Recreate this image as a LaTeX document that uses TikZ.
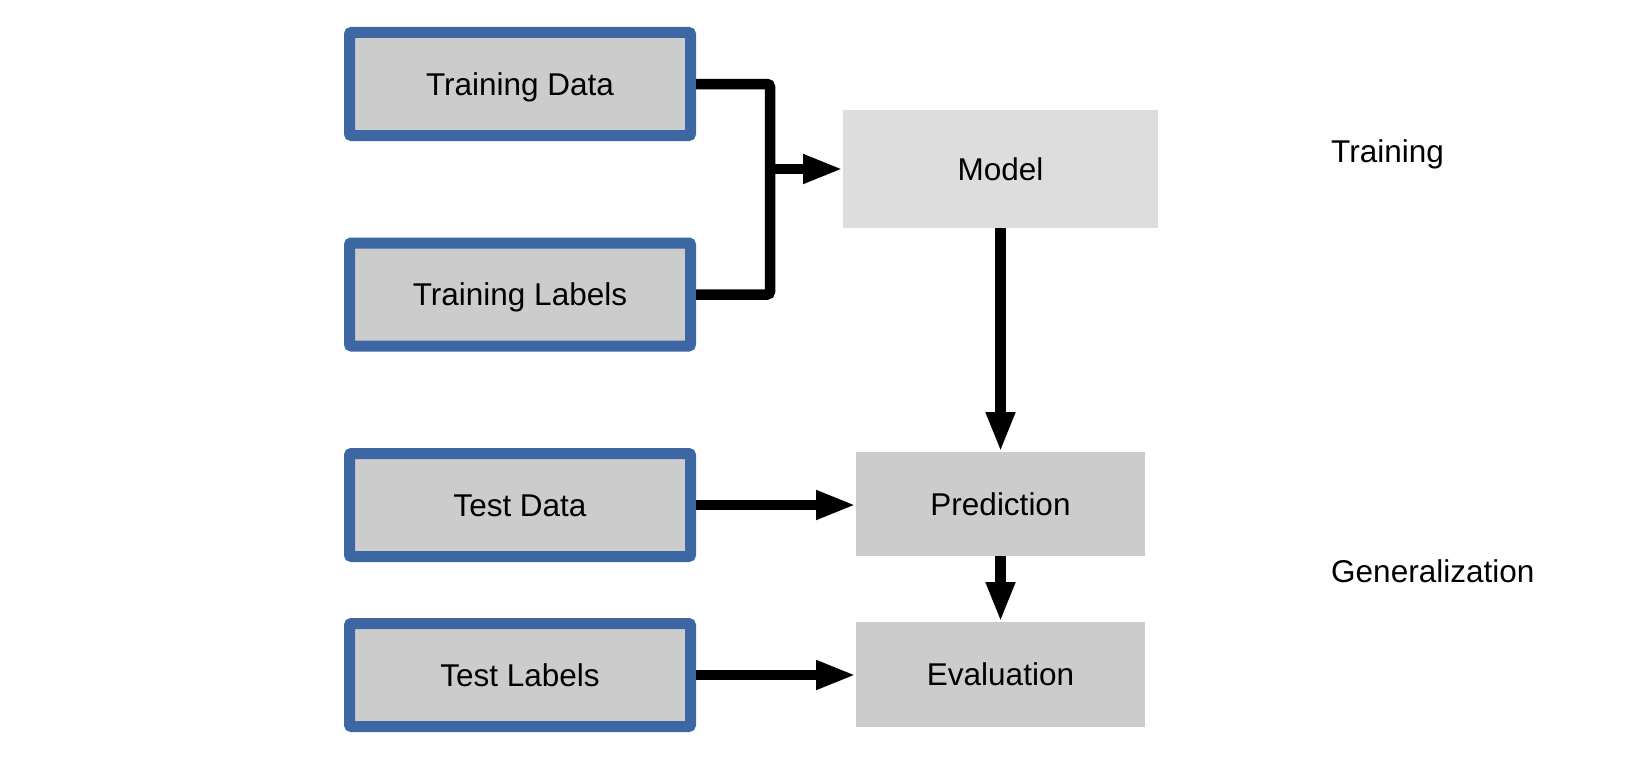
\documentclass[tikz,border=0pt]{standalone}
\usepackage{fontspec}
\setmainfont{Liberation Sans}
\usetikzlibrary{arrows.meta}
\definecolor{boxblue}{HTML}{3C67A3}
\definecolor{boxgray}{HTML}{CCCCCC}
\definecolor{modelgray}{HTML}{DDDDDD}
\tikzset{
  inbox/.style={draw=boxblue, fill=boxgray, line width=11pt, rounded corners=2pt,
    minimum width=341pt, minimum height=103pt, outer sep=5.5pt, inner sep=0pt,
    text height=22.6pt, text depth=0pt, font=\fontsize{31.5}{36}\selectfont},
  procbox/.style={fill=boxgray, draw=none, outer sep=0pt, inner sep=0pt,
    text height=22.6pt, text depth=0pt, font=\fontsize{31.5}{36}\selectfont},
  flow/.style={line width=10.5pt, -{Triangle[length=40pt,width=27pt]}},
  joinline/.style={line width=10.5pt, rounded corners=3pt},
  phase/.style={anchor=base west, inner sep=0pt, font=\fontsize{31.5}{36}\selectfont}
}
\begin{document}
\begin{tikzpicture}[x=1pt,y=-1pt]
\useasboundingbox[fill=white] (0,0) rectangle (1640,776);

\node[inbox] (td) at (520,84) {Training Data};
\node[inbox] (tl) at (520,294.5) {Training Labels};
\node[inbox] (sd) at (520,505) {Test Data};
\node[inbox] (sl) at (520,675) {Test Labels};

\node[procbox, fill=modelgray, minimum width=315pt, minimum height=118pt] (model) at (1000.5,169) {Model};
\node[procbox, minimum width=289pt, minimum height=104pt] (pred) at (1000.5,504) {Prediction};
\node[procbox, minimum width=289pt, minimum height=105pt] (eval) at (1000.5,674.5) {Evaluation};

\node[phase] (ptrain) at (1331,162) {Training};
\node[phase] (pgen) at (1331,582) {Generalization};

\coordinate (jm) at (770,169);
\draw[joinline] (td.east) -- (td.east -| jm) -- (tl.east -| jm) -- (tl.east);
\draw[flow] (jm) -- (model.west);
\draw[flow] (model.south) -- (pred.north);
\draw[flow] (sd.east) -- (sd.east -| pred.west);
\draw[flow] (pred.south) -- (eval.north);
\draw[flow] (sl.east) -- (sl.east -| eval.west);
\end{tikzpicture}
\end{document}
